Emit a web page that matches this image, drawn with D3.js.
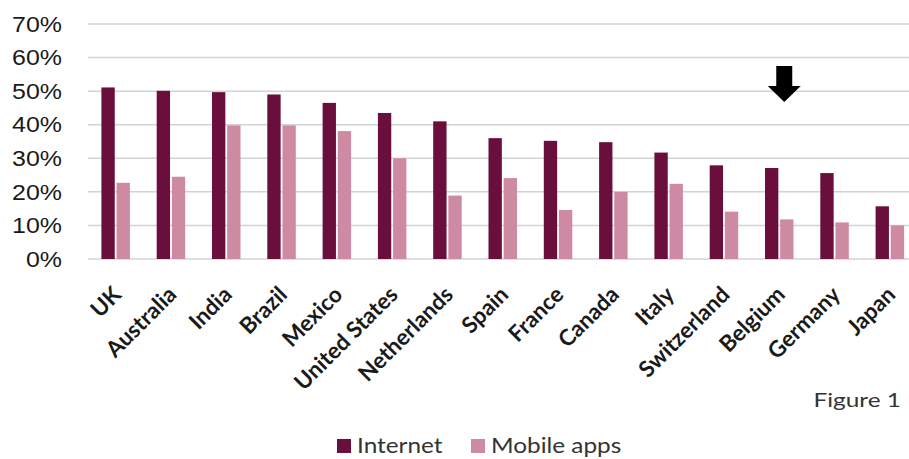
<!DOCTYPE html>
<html>
<head>
<meta charset="utf-8">
<script src="https://cdn.jsdelivr.net/npm/d3@7"></script>
<style>
  body { margin: 0; background: #fff; }
  svg { display: block; }
</style>
</head>
<body>
<svg id="chart"></svg>
<script>
var width = 909;
var height = 459;

// data (share of respondents)
var countries = ["UK", "Australia", "India", "Brazil", "Mexico", "United States", "Netherlands",
    "Spain", "France", "Canada", "Italy", "Switzerland", "Belgium", "Germany", "Japan"];
var internet = [0.511, 0.501, 0.497, 0.490, 0.465, 0.435, 0.410, 0.360, 0.352, 0.348, 0.317, 0.279, 0.271, 0.256, 0.157];
var mobileApps = [0.227, 0.245, 0.398, 0.398, 0.381, 0.300, 0.189, 0.241, 0.146, 0.200, 0.224, 0.141, 0.118, 0.109, 0.100];
var seriesNames = ["Internet", "Mobile apps"];
var yTicks = [0, 0.1, 0.2, 0.3, 0.4, 0.5, 0.6, 0.7];
var highlighted = "Belgium";

var colors = ["#6a0f3c", "#cf8aa3"];

var svg = d3.select("#chart")
    .attr("width", width)
    .attr("height", height);

var plotLeft = 88, plotRight = 917.5, plotTop = 24, plotBottom = 259;
// the original picture is a bit stretched sideways
var stretch = 1.16;

var x = d3.scaleBand()
    .domain(countries)
    .range([plotLeft, plotRight]);

var x1 = d3.scaleBand()
    .domain(seriesNames)
    .range([0, 28.5])
    .paddingInner(0.12);

var y = d3.scaleLinear()
    .domain([0, 0.7])
    .range([plotBottom, plotTop]);

// gridlines
svg.append("g")
    .selectAll("line")
    .data(yTicks)
    .enter().append("line")
    .attr("x1", plotLeft)
    .attr("x2", width)
    .attr("y1", function (d) { return y(d); })
    .attr("y2", function (d) { return y(d); })
    .style("stroke", "#d3d3d3")
    .style("stroke-width", 1.5);

// y labels
svg.append("g")
    .selectAll("text")
    .data(yTicks)
    .enter().append("text")
    .attr("transform", function (d) {
        return "translate(62," + y(d) + ") scale(" + stretch + ",1)";
    })
    .attr("dy", "0.36em")
    .attr("text-anchor", "end")
    .style("font-family", "'Liberation Sans', Arial, sans-serif")
    .style("font-size", "21.5px")
    .style("fill", "#1a1a1a")
    .text(d3.format(".0%"));

// bars
var rows = countries.map(function (c, i) {
    return { country: c, values: [internet[i], mobileApps[i]] };
});

var groupOffset = (x.bandwidth() - x1.range()[1]) / 2;

var groups = svg.append("g")
    .selectAll("g")
    .data(rows)
    .enter().append("g")
    .attr("transform", function (d) {
        return "translate(" + (x(d.country) + groupOffset) + ",0)";
    });

groups.selectAll("rect")
    .data(function (d) {
        return d.values.map(function (v, i) { return { key: seriesNames[i], value: v, i: i }; });
    })
    .enter().append("rect")
    .attr("x", function (d) { return x1(d.key); })
    .attr("width", x1.bandwidth())
    .attr("y", function (d) { return y(d.value); })
    .attr("height", function (d) { return y(0) - y(d.value); })
    .attr("fill", function (d) { return colors[d.i]; });

// x labels
svg.append("g")
    .selectAll("text")
    .data(countries)
    .enter().append("text")
    .attr("transform", function (d) {
        return "translate(" + (x(d) + x.bandwidth() / 2 + 7) + ",296) rotate(-45)";
    })
    .attr("text-anchor", "end")
    .style("font-family", "Lato, 'Open Sans', sans-serif")
    .style("font-weight", "bold")
    .style("font-size", "22.5px")
    .style("fill", "#1a1a1a")
    .text(function (d) { return d; });

// arrow over highlighted country
var ax = x(highlighted) + x.bandwidth() / 2 + 5;
var arrow = [[-8, 66], [8, 66], [8, 86], [16.5, 86], [0, 102], [-16.5, 86], [-8, 86]];
svg.append("path")
    .attr("d", d3.line()(arrow.map(function (p) { return [ax + p[0], p[1]]; })) + "Z")
    .attr("fill", "#000");

// figure caption
svg.append("text")
    .attr("transform", "translate(901,407) scale(1.22,1)")
    .attr("text-anchor", "end")
    .style("font-family", "Lato, 'Open Sans', sans-serif")
    .style("font-size", "20px")
    .style("fill", "#333")
    .text("Figure 1");

// legend
var legend = svg.append("g")
    .selectAll("g")
    .data(seriesNames)
    .enter().append("g")
    .attr("transform", function (d, i) {
        return "translate(" + (i === 0 ? 337 : 471) + ",0)";
    });

legend.append("rect")
    .attr("x", 0)
    .attr("y", 439)
    .attr("width", 14)
    .attr("height", 14)
    .attr("fill", function (d, i) { return colors[i]; });

legend.append("text")
    .attr("transform", "translate(20,453) scale(" + stretch + ",1)")
    .style("font-family", "Lato, 'Open Sans', sans-serif")
    .style("font-size", "21px")
    .style("fill", "#333")
    .text(function (d) { return d; });
</script>
</body>
</html>
